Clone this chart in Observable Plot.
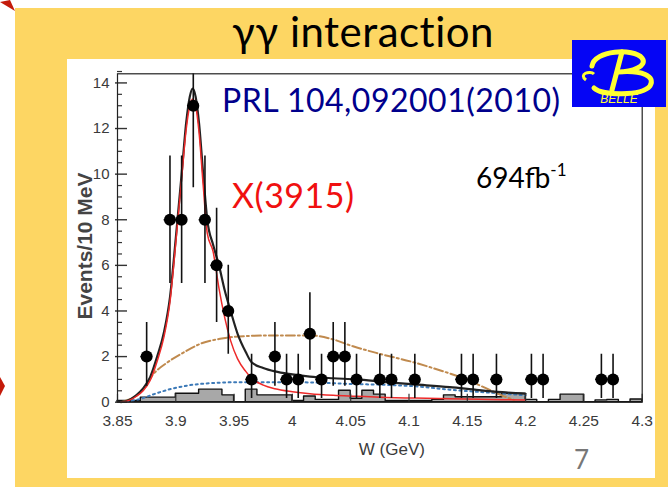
<!DOCTYPE html>
<html>
<head>
<meta charset="utf-8">
<script src="https://cdn.jsdelivr.net/npm/d3@7"></script>
<script src="https://cdn.jsdelivr.net/npm/@observablehq/plot@0.6"></script>
<style>
  body { margin: 0; background: #fff; }
  #slide { position: relative; width: 668px; height: 487px; overflow: hidden; background: #fff; font-family: Lato, "Open Sans", sans-serif; }
  #band { position: absolute; left: 15px; top: 8px; width: 653px; height: 479px; background: #FDD663; }
  #panel { position: absolute; left: 67px; top: 59px; width: 588px; height: 419px; background: #fff; }
  #chart { position: absolute; left: 0; top: 0; }
  .note { position: absolute; white-space: nowrap; line-height: 1; }
  #title { left: 0; width: 726px; text-align: center; top: 10px; font-size: 42px; letter-spacing: 0.5px; color: #000; }
  #ref { left: 222px; top: 84px; font-size: 32px; letter-spacing: 0.5px; color: #00008C; }
  #state { left: 232px; top: 178px; font-size: 34px; letter-spacing: 0.5px; color: #F01010; }
  #lumi { left: 476px; top: 163px; font-size: 28px; color: #000; }
  #lumi sup { font-size: 17px; vertical-align: 0; position: relative; top: -12px; }
  #page { left: 574px; top: 446px; font-size: 26px; color: #777; }
  #logo { position: absolute; left: 572px; top: 40px; width: 94px; height: 67px; background: #0505f5; }
  #deco { position: absolute; left: 0; top: 0; }
</style>
</head>
<body>
<div id="slide">
  <div id="band"></div>
  <div id="panel"></div>
  <svg id="deco" width="668" height="487">
    <polygon points="0,2 10,0 15,11" fill="#C41A0A"/>
    <polygon points="0,377 5,386 0,396" fill="#C41A0A"/>
  </svg>
  <div class="note" id="title">γγ interaction</div>
  <div id="chart"></div>
  <div class="note" id="ref">PRL 104,092001(2010)</div>
  <div class="note" id="state">X(3915)</div>
  <div class="note" id="lumi">694fb<sup>-1</sup></div>
  <div class="note" id="page">7</div>
  <div id="logo">
    <svg width="94" height="67">
      <path d="M20,26 C22,10 62,8 70,18 C76,26 60,32 46,32 C70,30 84,36 78,46 C70,56 30,56 22,48"
            fill="none" stroke="#FFFF33" stroke-width="5" stroke-linecap="round"/>
      <path d="M50,12 L40,50" stroke="#FFFF33" stroke-width="5" stroke-linecap="round"/>
      <path d="M14,40 C6,34 18,30 22,34" fill="none" stroke="#FFFF33" stroke-width="3"/>
      <text x="47" y="63" text-anchor="middle" font-family="Liberation Sans" font-style="italic"
            font-size="12" fill="#FFFF33">BELLE</text>
    </svg>
  </div>
</div>
<script>
// Two-photon yield of J/psi omega events versus invariant mass W
const ptX  = [3.875, 3.895, 3.905, 3.915, 3.925, 3.935, 3.945, 3.965, 3.985, 3.995, 4.005, 4.015, 4.025,
              4.035, 4.045, 4.055, 4.075, 4.085, 4.105, 4.145, 4.155, 4.175, 4.205, 4.215, 4.265, 4.275];
const ptN  = [2, 8, 8, 13, 8, 6, 4, 1, 2, 1, 1, 3, 1, 2, 2, 1, 1, 1, 1, 1, 1, 1, 1, 1, 1, 1];
const errLo = [0.7, 5.2, 5.2, 9.4, 5.2, 3.5, 2.1, 0.16, 0.7, 0.16, 0.16, 1.4, 0.16, 0.7, 0.7, 0.16,
               0.16, 0.16, 0.16, 0.16, 0.16, 0.16, 0.16, 0.16, 0.16, 0.16];
const errHi = [3.5, 10.8, 10.8, 16.6, 10.8, 8.5, 6.0, 2.1, 3.5, 2.1, 2.1, 4.8, 2.1, 3.5, 3.5, 2.1,
               2.1, 2.1, 2.1, 2.1, 2.1, 2.1, 2.1, 2.1, 2.1, 2.1];
const binHalf = 0.005;

// Sideband (non-J/psi) histogram, 10 MeV bins starting at the listed lower edges
const histLow = [3.85, 3.86, 3.87, 3.88, 3.89, 3.90, 3.91, 3.92, 3.93, 3.94, 3.95, 3.96, 3.97, 3.98, 3.99,
                 4.00, 4.01, 4.02, 4.03, 4.04, 4.05, 4.06, 4.07, 4.08, 4.09, 4.10, 4.11, 4.12, 4.13, 4.14,
                 4.15, 4.16, 4.17, 4.18, 4.19, 4.20, 4.21, 4.22, 4.23, 4.24, 4.25, 4.26, 4.27, 4.28, 4.29, 4.30];
const histVal = [0.05, 0.05, 0.2, 0.2, 0.2, 0.37, 0.37, 0.55, 0.55, 0.3, 0.0, 0.55, 0.3, 0.3, 0.3,
                 0.05, 0.25, 0.1, 0.1, 0.5, 0.15, 0.5, 0.33, 0.05, 0.05, 0.05, 0.05, 0.1, 0.3, 0.22,
                 0.22, 0.22, 0.22, 0.37, 0.37, 0.1, 0.0, 0.1, 0.33, 0.33, 0.0, 0.08, 0.1, 0.0, 0.12, 0.12];

// Total fit
const fitX = [3.853, 3.86, 3.866, 3.872, 3.878, 3.884, 3.89, 3.895, 3.9, 3.905, 3.909, 3.912, 3.9145, 3.917,
              3.92, 3.9235, 3.927, 3.932, 3.937, 3.942, 3.947, 3.953, 3.96, 3.965, 3.975, 3.985, 4.0, 4.015,
              4.035, 4.055, 4.08, 4.105, 4.135, 4.16, 4.18, 4.2];
const fitY = [0, 0.1, 0.3, 0.6, 1.1, 2.0, 3.1, 4.6, 7.2, 10.0, 12.3, 13.4, 13.75, 13.4,
              12.2, 10.0, 8.0, 6.9, 6.0, 4.9, 4.0, 3.0, 2.2, 1.75, 1.5, 1.35, 1.22, 1.12,
              1.05, 1.0, 0.88, 0.78, 0.66, 0.53, 0.44, 0.37];
// X(3915) signal component
const sigY = [0, 0.08, 0.25, 0.5, 0.95, 1.8, 2.9, 4.4, 7.0, 9.8, 12.0, 13.0, 13.3, 13.0,
              11.8, 9.5, 7.4, 6.6, 5.0, 3.7, 2.7, 1.9, 1.35, 1.05, 0.75, 0.59, 0.46, 0.37,
              0.3, 0.26, 0.21, 0.18, 0.15, 0.13, 0.11, 0.1];
// Non-resonant background component
const bkgX = [3.853, 3.86, 3.87, 3.88, 3.893, 3.91, 3.935, 3.96, 3.99, 4.02, 4.05, 4.08, 4.105, 4.135, 4.16, 4.18, 4.2];
const bkgY = [0, 0.05, 0.15, 0.33, 0.54, 0.73, 0.85, 0.88, 0.88, 0.86, 0.8, 0.76, 0.7, 0.55, 0.45, 0.38, 0.3];
// Alternative hypothesis shape
const altX = [3.853, 3.86, 3.87, 3.881, 3.893, 3.907, 3.921, 3.938, 3.96, 3.99, 4.015, 4.035, 4.052, 4.075,
              4.104, 4.127, 4.144, 4.164, 4.18, 4.19];
const altY = [0, 0.12, 0.44, 1.25, 1.75, 2.19, 2.56, 2.78, 2.9, 2.93, 2.93, 2.75, 2.45, 2.12,
              1.75, 1.39, 1.1, 0.66, 0.29, 0.1];

const xTicks = [3.85, 3.9, 3.95, 4, 4.05, 4.1, 4.15, 4.2, 4.25, 4.3];
const yMajor = [0, 2, 4, 6, 8, 10, 12, 14];
const yMinor = [0.5, 1, 1.5, 2.5, 3, 3.5, 4.5, 5, 5.5, 6.5, 7, 7.5, 8.5, 9, 9.5, 10.5, 11, 11.5, 12.5, 13, 13.5, 14.5];

const points = ptX.map((x, i) => ({x, n: ptN[i], lo: errLo[i], hi: errHi[i]}));
const hist = histLow.map((x, i) => ({x, v: histVal[i]}));
const fit = fitX.map((x, i) => ({x, y: fitY[i]}));
const sig = fitX.map((x, i) => ({x, y: sigY[i]}));
const bkg = bkgX.map((x, i) => ({x, y: bkgY[i]}));
const alt = altX.map((x, i) => ({x, y: altY[i]}));

const W = 668, H = 487;
const mL = 117, mR = 26.3, mT = 73.3, mB = 85.3;
const frameW = W - mL - mR, frameH = H - mT - mB;
const axisFont = "Liberation Sans, Arial, sans-serif";

const chart = Plot.plot({
  width: W, height: H,
  marginLeft: mL, marginRight: mR, marginTop: mT, marginBottom: mB,
  style: {background: "transparent", fontFamily: axisFont, fontSize: "14px"},
  x: {domain: [3.85, 4.3], axis: null},
  y: {domain: [0, 14.4], axis: null},
  marks: [
    Plot.areaY(hist, {x: "x", y: "v", curve: "step-after", fill: "#a8a8a8", stroke: "#111", strokeWidth: 1.4}),
    Plot.line(bkg, {x: "x", y: "y", curve: "monotone-x", stroke: "#3d7ab8", strokeWidth: 2, strokeDasharray: "2,3.5"}),
    Plot.line(alt, {x: "x", y: "y", curve: "monotone-x", stroke: "#C08A4E", strokeWidth: 2, strokeDasharray: "9,3,2,3"}),
    Plot.line(fit, {x: "x", y: "y", curve: "monotone-x", stroke: "#222", strokeWidth: 2.2, clip: true}),
    Plot.line(sig, {x: "x", y: "y", curve: "monotone-x", stroke: "#EE2A2A", strokeWidth: 1.5, clip: true}),
    Plot.ruleX(points, {x: "x", y1: "lo", y2: "hi", stroke: "#111", strokeWidth: 1.6, clip: true}),
    Plot.ruleY(points, {y: "n", x1: d => d.x - binHalf, x2: d => d.x + binHalf, stroke: "#111", strokeWidth: 1.6}),
    Plot.dot(points, {x: "x", y: "n", r: 6, fill: "#000"}),
    Plot.tickY(yMajor, {y: d => d, insetLeft: -2, insetRight: frameW - 10, stroke: "#333", strokeWidth: 1.4}),
    Plot.tickY(yMinor, {y: d => d, insetRight: frameW - 5, stroke: "#333", strokeWidth: 1.2}),
    Plot.tickX(xTicks, {x: d => d, insetTop: frameH - 8, stroke: "#333", strokeWidth: 1.2}),
    Plot.frame({stroke: "#222", strokeWidth: 1.2}),
    Plot.axisY({ticks: yMajor, tickSize: 0, tickPadding: 8, fill: "#3a3a3a", fontSize: 15, label: null}),
    Plot.axisX({ticks: xTicks, tickSize: 0, tickPadding: 13, fill: "#3a3a3a", fontSize: 15.5, label: null,
                tickFormat: d => String(+d.toFixed(2))}),
    Plot.text(["Events/10 MeV"], {frameAnchor: "left", textAnchor: "middle", rotate: -90, dx: -32, dy: 8,
                                  fill: "#444", fontSize: 21, fontWeight: "bold"}),
    Plot.text(["W (GeV)"], {frameAnchor: "bottom", dy: 53, dx: 12, fill: "#3a3a3a", fontSize: 17})
  ]
});
document.getElementById("chart").appendChild(chart);
</script>
</body>
</html>
